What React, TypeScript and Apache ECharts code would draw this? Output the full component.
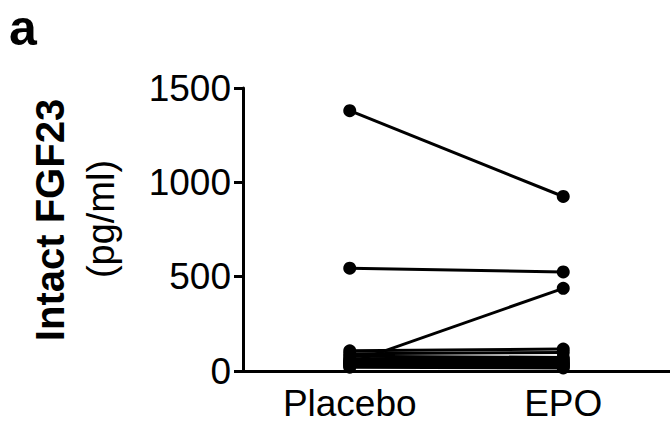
import React, { useEffect, useRef } from "react";
import * as echarts from "echarts";

const categories = ["Placebo", "EPO"];
const placebo = [1380, 545, 42, 107, 92, 78, 65, 57, 50, 44, 38, 32, 26, 20];
const epo = [925, 525, 438, 116, 98, 72, 62, 54, 47, 40, 34, 28, 22, 16];
const yTicks = [0, 500, 1000, 1500];

export default function App() {
  const ref = useRef<HTMLDivElement>(null);
  useEffect(() => {
    if (!ref.current) return;
    const chart = echarts.init(ref.current, undefined, { renderer: "svg" });
    const font = "Liberation Sans, Arial, Helvetica, sans-serif";
    const series = placebo.map((p, i) => ({
      type: "line",
      data: [p, epo[i]],
      symbol: "circle",
      symbolSize: 13,
      lineStyle: { color: "#000", width: 3 },
      itemStyle: { color: "#000" },
      silent: true,
    }));
    chart.setOption({
      animation: false,
      backgroundColor: "#fff",
      grid: { left: 243, right: -1, top: 88, bottom: 61 },
      xAxis: {
        type: "category",
        data: categories,
        boundaryGap: true,
        axisLine: { lineStyle: { color: "#000", width: 3 } },
        axisTick: { alignWithLabel: true, length: 9, lineStyle: { color: "#000", width: 3 } },
        axisLabel: { color: "#000", fontSize: 37, fontFamily: font, margin: 14 },
      },
      yAxis: {
        type: "value",
        min: yTicks[0],
        max: yTicks[yTicks.length - 1],
        interval: 500,
        splitLine: { show: false },
        axisLine: { show: true, lineStyle: { color: "#000", width: 3 } },
        axisTick: { show: true, length: 9, lineStyle: { color: "#000", width: 3 } },
        axisLabel: {
          color: "#000",
          fontSize: 37,
          fontFamily: font,
          margin: 12,
          formatter: (v: number) => String(v),
        },
      },
      graphic: [
        {
          type: "text",
          left: 9,
          top: 3,
          style: { text: "a", font: `bold 50px ${font}`, fill: "#000" },
        },
        {
          type: "text",
          x: 50,
          y: 220,
          rotation: Math.PI / 2,
          style: {
            text: "Intact FGF23",
            font: `bold 40px ${font}`,
            fill: "#000",
            align: "center",
            verticalAlign: "middle",
          },
        },
        {
          type: "text",
          x: 101,
          y: 219,
          rotation: Math.PI / 2,
          style: {
            text: "(pg/ml)",
            font: `38px ${font}`,
            fill: "#000",
            align: "center",
            verticalAlign: "middle",
          },
        },
      ],
      series,
    });
    return () => chart.dispose();
  }, []);
  return (
    <div
      ref={ref}
      style={{ position: "fixed", left: 0, top: 0, width: 670, height: 432, background: "#fff" }}
    />
  );
}
